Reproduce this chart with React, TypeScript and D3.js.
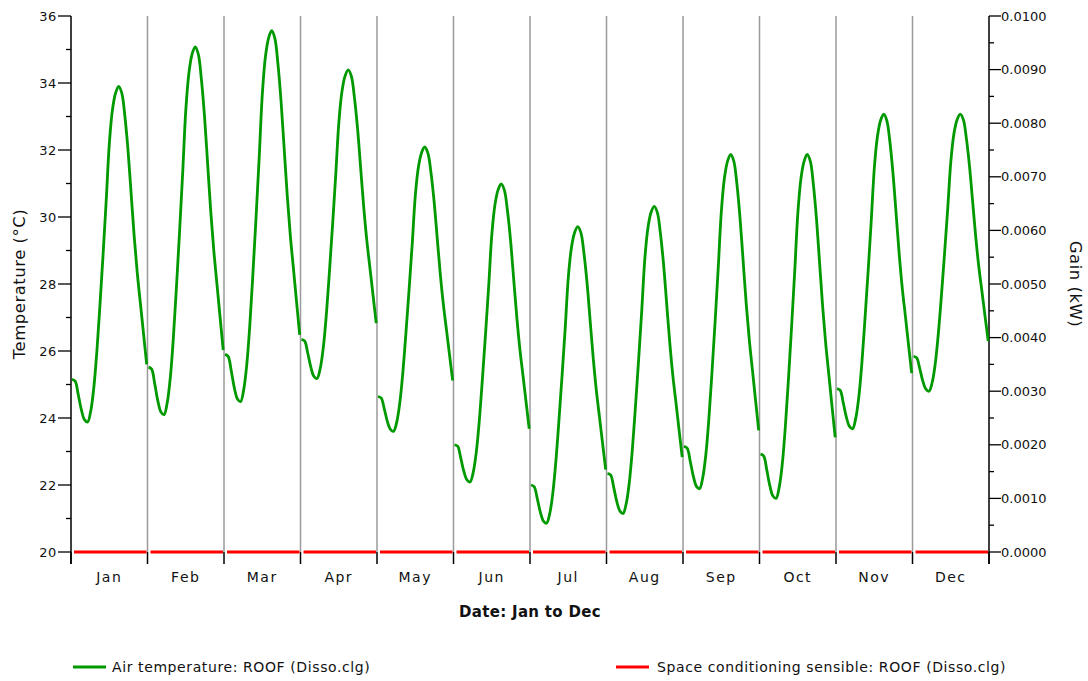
import React from "react";
import * as d3 from "d3";

const MONTHS = ["Jan", "Feb", "Mar", "Apr", "May", "Jun", "Jul", "Aug", "Sep", "Oct", "Nov", "Dec"];

// Hourly air temperature (°C), hour 0..24 of a typical day for each month
const TEMP_JAN = [25.15, 25.10, 24.70, 24.25, 23.95, 23.88, 24.20, 24.90, 26.00, 27.40, 28.90, 30.50, 32.20, 33.20, 33.70, 33.90, 33.70, 33.00, 31.99, 30.70, 29.40, 28.30, 27.40, 26.50, 25.60];
const TEMP_FEB = [25.52, 25.46, 25.02, 24.51, 24.18, 24.10, 24.45, 25.20, 26.41, 27.94, 29.59, 31.35, 33.21, 34.31, 34.86, 35.08, 34.86, 34.10, 33.00, 31.59, 30.17, 28.97, 27.99, 27.01, 26.03];
const TEMP_MAR = [25.90, 25.84, 25.41, 24.90, 24.57, 24.49, 24.84, 25.60, 26.81, 28.36, 30.03, 31.80, 33.68, 34.79, 35.34, 35.56, 35.34, 34.58, 33.47, 32.06, 30.64, 29.43, 28.45, 27.46, 26.48];
const TEMP_APR = [26.35, 26.30, 25.94, 25.52, 25.24, 25.18, 25.47, 26.10, 27.11, 28.40, 29.79, 31.26, 32.82, 33.75, 34.21, 34.39, 34.21, 33.57, 32.65, 31.47, 30.29, 29.29, 28.47, 27.65, 26.83];
const TEMP_MAY = [24.64, 24.60, 24.28, 23.90, 23.66, 23.60, 23.87, 24.45, 25.38, 26.57, 27.85, 29.20, 30.65, 31.50, 31.92, 32.09, 31.92, 31.34, 30.49, 29.40, 28.31, 27.39, 26.63, 25.87, 25.12];
const TEMP_JUN = [23.20, 23.16, 22.81, 22.41, 22.15, 22.09, 22.37, 22.98, 23.96, 25.21, 26.54, 27.96, 29.48, 30.37, 30.81, 30.99, 30.81, 30.20, 29.31, 28.17, 27.03, 26.06, 25.27, 24.47, 23.68];
const TEMP_JUL = [22.00, 21.95, 21.60, 21.19, 20.92, 20.86, 21.14, 21.75, 22.72, 23.96, 25.29, 26.70, 28.21, 29.09, 29.53, 29.71, 29.54, 28.93, 28.04, 26.91, 25.78, 24.82, 24.03, 23.24, 22.46];
const TEMP_AUG = [22.35, 22.30, 21.93, 21.50, 21.22, 21.15, 21.44, 22.07, 23.08, 24.36, 25.74, 27.20, 28.76, 29.68, 30.14, 30.32, 30.14, 29.51, 28.60, 27.43, 26.26, 25.26, 24.46, 23.64, 22.83];
const TEMP_SEP = [23.15, 23.10, 22.71, 22.26, 21.96, 21.89, 22.21, 22.89, 23.99, 25.38, 26.88, 28.48, 30.17, 31.17, 31.67, 31.87, 31.67, 30.98, 29.97, 28.69, 27.40, 26.31, 25.42, 24.52, 23.63];
const TEMP_OCT = [22.92, 22.87, 22.46, 21.98, 21.67, 21.60, 21.93, 22.63, 23.76, 25.19, 26.74, 28.38, 30.12, 31.15, 31.66, 31.87, 31.67, 30.96, 29.93, 28.61, 27.29, 26.17, 25.25, 24.33, 23.42];
const TEMP_NOV = [24.88, 24.83, 24.46, 24.03, 23.75, 23.68, 23.98, 24.62, 25.65, 26.97, 28.38, 29.88, 31.47, 32.41, 32.88, 33.07, 32.88, 32.24, 31.29, 30.09, 28.88, 27.85, 27.02, 26.17, 25.34];
const TEMP_DEC = [25.84, 25.80, 25.48, 25.10, 24.86, 24.80, 25.06, 25.63, 26.54, 27.69, 28.94, 30.26, 31.66, 32.49, 32.90, 33.07, 32.91, 32.34, 31.51, 30.46, 29.40, 28.50, 27.77, 27.03, 26.30];

// Space conditioning sensible gain (kW) per month (flat at zero)
const GAIN_KW = [0, 0, 0, 0, 0, 0, 0, 0, 0, 0, 0, 0];

const TEMP_TICKS = [20, 22, 24, 26, 28, 30, 32, 34, 36];
const TEMP_MINOR = [21, 23, 25, 27, 29, 31, 33, 35];
const GAIN_TICKS = [0, 0.001, 0.002, 0.003, 0.004, 0.005, 0.006, 0.007, 0.008, 0.009, 0.01];
const GAIN_MINOR = [0.0005, 0.0015, 0.0025, 0.0035, 0.0045, 0.0055, 0.0065, 0.0075, 0.0085, 0.0095];

const LEGEND = [
  { label: "Air temperature: ROOF (Disso.clg)", color: "#009900" },
  { label: "Space conditioning sensible: ROOF (Disso.clg)", color: "#ff0000" },
];

const TEMP_BY_MONTH = [TEMP_JAN, TEMP_FEB, TEMP_MAR, TEMP_APR, TEMP_MAY, TEMP_JUN, TEMP_JUL, TEMP_AUG, TEMP_SEP, TEMP_OCT, TEMP_NOV, TEMP_DEC];

const W = 1088;
const H = 681;
const L = 71;
const R = 989;
const T = 16;
const B = 552;
const FONT = "'DejaVu Sans', sans-serif";

export default function App() {
  const x = d3.scaleLinear().domain([0, 12]).range([L, R]);
  const yT = d3.scaleLinear().domain([20, 36]).range([B, T]);
  const yG = d3.scaleLinear().domain([0, 0.01]).range([B, T]);
  const fmtG = d3.format(".4f");

  const hourX = (m: number, h: number) => {
    const x0 = x(m);
    const x1 = x(m + 1);
    return x0 + 1 + (h / 24) * (x1 - x0 - 1.8);
  };

  const tempLine = (m: number) =>
    d3
      .line<number>()
      .x((_, h) => hourX(m, h))
      .y((d) => yT(d))
      .curve(d3.curveCatmullRom.alpha(0.5))(TEMP_BY_MONTH[m]) || "";

  const months = d3.range(12);
  const midY = 284;

  return (
    <svg
      width={W}
      height={H}
      style={{ position: "absolute", left: 0, top: 0, background: "#fff" }}
      fontFamily={FONT}
    >
      <rect x={0} y={0} width={W} height={H} fill="#fff" />
      {/* month gridlines */}
      {d3.range(1, 12).map((i) => (
        <line key={"g" + i} x1={x(i)} x2={x(i)} y1={T} y2={B} stroke="#9a9a9a" strokeWidth={1.5} />
      ))}
      {/* x ticks */}
      {d3.range(0, 13).map((i) => (
        <line key={"xt" + i} x1={x(i)} x2={x(i)} y1={B} y2={B + 12} stroke="#000" strokeWidth={1.5} />
      ))}
      {/* left axis */}
      <line x1={L} x2={L} y1={T} y2={B + 12} stroke="#000" strokeWidth={1.5} />
      {TEMP_TICKS.map((t) => (
        <g key={"lt" + t}>
          <line x1={L - 13} x2={L} y1={yT(t)} y2={yT(t)} stroke="#000" strokeWidth={1.3} />
          <text x={L - 14} y={yT(t)} dy="0.35em" textAnchor="end" fontSize={13} letterSpacing={0.6} fill="#111">
            {t}
          </text>
        </g>
      ))}
      {TEMP_MINOR.map((t) => (
        <line key={"lm" + t} x1={L - 5} x2={L} y1={yT(t)} y2={yT(t)} stroke="#000" strokeWidth={1.3} />
      ))}
      {/* right axis */}
      <line x1={R} x2={R} y1={T} y2={B + 12} stroke="#000" strokeWidth={1.5} />
      {GAIN_TICKS.map((g) => (
        <g key={"rt" + g}>
          <line x1={R} x2={R + 12} y1={yG(g)} y2={yG(g)} stroke="#000" strokeWidth={1.3} />
          <text x={R + 12} y={yG(g)} dy="0.35em" textAnchor="start" fontSize={13} fill="#111">
            {fmtG(g)}
          </text>
        </g>
      ))}
      {GAIN_MINOR.map((g) => (
        <line key={"rm" + g} x1={R} x2={R + 5} y1={yG(g)} y2={yG(g)} stroke="#000" strokeWidth={1.3} />
      ))}
      {/* month labels */}
      {months.map((m) => (
        <text key={"ml" + m} x={(x(m) + x(m + 1)) / 2} y={582} textAnchor="middle" fontSize={14} letterSpacing={1.5} fill="#111">
          {MONTHS[m]}
        </text>
      ))}
      {/* axis titles */}
      <text x={530} y={617} textAnchor="middle" fontSize={15} fontWeight="bold" letterSpacing={0.3} fill="#111">
        Date: Jan to Dec
      </text>
      <text
        transform={`translate(25, ${midY}) rotate(-90)`}
        textAnchor="middle"
        fontSize={16.5}
        letterSpacing={0.5}
        fill="#111"
      >
        Temperature (°C)
      </text>
      <text
        transform={`translate(1070, ${midY}) rotate(90)`}
        textAnchor="middle"
        fontSize={16.5}
        letterSpacing={0.5}
        fill="#111"
      >
        Gain (kW)
      </text>
      {/* gain series (red) */}
      {months.map((m) => (
        <line
          key={"gn" + m}
          x1={x(m) + 3}
          x2={x(m + 1) - 1}
          y1={yG(GAIN_KW[m])}
          y2={yG(GAIN_KW[m])}
          stroke="#ff0000"
          strokeWidth={3}
        />
      ))}
      {/* temperature series (green) */}
      {months.map((m) => (
        <path key={"tp" + m} d={tempLine(m)} fill="none" stroke="#009900" strokeWidth={2.8} strokeLinejoin="round" />
      ))}
      {/* legend */}
      <line x1={73} x2={106} y1={667} y2={667} stroke={LEGEND[0].color} strokeWidth={3} />
      <text x={112} y={672} fontSize={14} letterSpacing={0.6} fill="#111">
        {LEGEND[0].label}
      </text>
      <line x1={616} x2={649} y1={667} y2={667} stroke={LEGEND[1].color} strokeWidth={3} />
      <text x={657} y={672} fontSize={14} letterSpacing={0.6} fill="#111">
        {LEGEND[1].label}
      </text>
    </svg>
  );
}
